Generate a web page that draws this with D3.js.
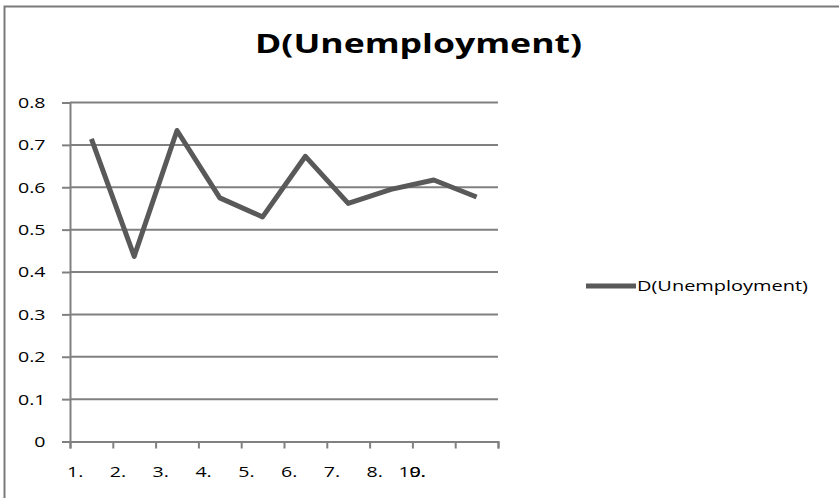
<!DOCTYPE html>
<html>
<head>
<meta charset="utf-8">
<script src="https://cdn.jsdelivr.net/npm/d3@7/dist/d3.min.js"></script>
<style>
  html, body { margin: 0; padding: 0; background: #fff; }
  svg { display: block; }
</style>
</head>
<body>
<script>
// Data
const categories = ["1.", "2.", "3.", "4.", "5.", "6.", "7.", "8.", "9.", "10."];
const values = [0.714, 0.437, 0.734, 0.575, 0.530, 0.673, 0.562, 0.595, 0.617, 0.577];
const yTicks = [0, 0.1, 0.2, 0.3, 0.4, 0.5, 0.6, 0.7, 0.8];
const seriesName = "D(Unemployment)";
const chartTitle = "D(Unemployment)";

const W = 839, H = 498;
const plot = { left: 70, right: 498, top: 102.5, bottom: 441.5 };
const gridColor = "#808080";
const lineColor = "#595959";
const font = "'Open Sans', 'Noto Sans', sans-serif";
const sx = 1.4; // horizontal stretch of the tick labels

const svg = d3.select("body").append("svg")
  .attr("width", W).attr("height", H);

// Outer chart frame (runs past the right and bottom edges)
svg.append("rect")
  .attr("x", 4.5).attr("y", 6.5)
  .attr("width", 900).attr("height", 600)
  .attr("fill", "#fff")
  .attr("stroke", "#7a7a7a").attr("stroke-width", 2);

// Scales
const x = d3.scaleBand().domain(categories).range([plot.left, plot.right]);
const xEdge = d3.scaleLinear().domain([0, categories.length]).range([plot.left, plot.right]);
const y = d3.scaleLinear().domain([0, 0.8]).range([plot.bottom, plot.top]);

// Horizontal gridlines
svg.append("g")
  .selectAll("line")
  .data(yTicks.filter(d => d > 0))
  .join("line")
  .attr("x1", plot.left).attr("x2", plot.right)
  .attr("y1", d => y(d)).attr("y2", d => y(d))
  .attr("stroke", gridColor).attr("stroke-width", 2);

// Y axis
const yAxis = svg.append("g")
  .attr("transform", `translate(${plot.left},0)`)
  .call(d3.axisLeft(y).tickValues(yTicks).tickSize(8).tickPadding(0)
    .tickFormat(d => d === 0 ? "0" : d3.format(".1f")(d)));
yAxis.select(".domain").attr("stroke", gridColor).attr("stroke-width", 2);
yAxis.selectAll(".tick line").attr("stroke", gridColor).attr("stroke-width", 2);
yAxis.selectAll(".tick text")
  .attr("font-family", font).attr("font-size", 14).attr("fill", "#000")
  .attr("text-anchor", "end")
  .attr("x", -24.5 / sx).attr("dy", "0.35em")
  .attr("transform", `scale(${sx},1)`);

// X axis: ticks on category boundaries
const xAxis = svg.append("g")
  .attr("transform", `translate(0,${plot.bottom})`)
  .call(d3.axisBottom(xEdge).tickValues(d3.range(categories.length + 1))
    .tickSize(7).tickFormat(""));
xAxis.select(".domain").attr("stroke", gridColor).attr("stroke-width", 2);
xAxis.selectAll(".tick line").attr("stroke", gridColor).attr("stroke-width", 2);

// Category labels, left-aligned at each boundary; the last one crowds into the ninth
svg.append("g")
  .selectAll("text")
  .data(categories)
  .join("text")
  .attr("font-family", font).attr("font-size", 14).attr("fill", "#000")
  .attr("text-anchor", "start")
  .attr("transform", (d, i) => {
    const px = i < categories.length - 1 ? x(d) - 3 : xEdge(categories.length - 2) - 14;
    return `translate(${px},477) scale(${sx},1)`;
  })
  .text(d => d);

// Series line
const line = d3.line()
  .x((d, i) => x(categories[i]) + x.bandwidth() / 2)
  .y(d => y(d));
svg.append("path")
  .datum(values)
  .attr("d", line)
  .attr("fill", "none")
  .attr("stroke", lineColor)
  .attr("stroke-width", 5)
  .attr("stroke-linejoin", "round");

// Title
svg.append("text")
  .attr("x", 418.5).attr("y", 53)
  .attr("text-anchor", "middle")
  .attr("font-family", font).attr("font-weight", "bold")
  .attr("font-size", 27).attr("fill", "#000")
  .attr("textLength", 327).attr("lengthAdjust", "spacingAndGlyphs")
  .text(chartTitle);

// Legend
const legend = svg.append("g");
legend.append("line")
  .attr("x1", 586).attr("x2", 636)
  .attr("y1", 286).attr("y2", 286)
  .attr("stroke", lineColor).attr("stroke-width", 5);
legend.append("text")
  .attr("x", 637).attr("y", 291)
  .attr("font-family", font).attr("font-size", 15).attr("fill", "#000")
  .attr("textLength", 171).attr("lengthAdjust", "spacingAndGlyphs")
  .text(seriesName);
</script>
</body>
</html>
